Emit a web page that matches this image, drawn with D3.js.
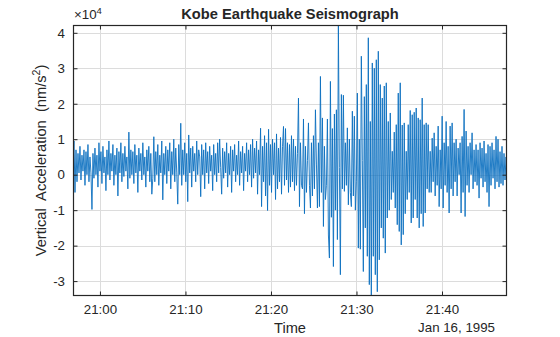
<!DOCTYPE html>
<html>
<head>
<meta charset="utf-8">
<script src="https://cdn.jsdelivr.net/npm/d3@7"></script>
<style>
  html, body { margin: 0; padding: 0; background: #fff; }
  text { font-family: "Liberation Sans", Arial, Helvetica, sans-serif; fill: #262626; }
</style>
</head>
<body>
<svg id="chart" width="560" height="337"></svg>
<script>
// ---- DATA (acceleration in units of 1e4 nm/s^2, one reading every 7 s from 20:56:51) ----
const startTime = "1995-01-16T20:56:51";
const sampleStepSeconds = 7;
const accel = [
  0.3, 0.95, -0.5, 0.7, -0.2, 0.6, 0.05, 0.8, -0.15, 0.55,
  0.1, 0.7, -0.3, 0.65, 0.0, 0.85, -0.2, 0.5, 0.05, -0.98,
  0.6, -0.1, 0.75, 0.0, 0.55, -0.35, 0.9, 0.1, 0.65, -0.25,
  0.8, 0.05, 0.5, -0.45, 0.7, 0.0, 0.95, -0.15, 0.6, 0.1,
  0.85, -0.3, 0.55, 0.0, 0.75, -0.6, 0.65, 0.05, 0.9, -0.2,
  0.6, -0.05, 0.8, 0.1, 0.5, -0.4, 1.2, -0.1, 0.7, 0.0,
  0.65, -0.25, 0.85, 0.05, 0.55, -0.5, 0.75, 0.1, 0.6, -0.15,
  0.9, 0.0, 0.5, -0.35, 0.7, 0.1, 0.8, -0.2, 0.6, -0.55,
  -0.1, 1.07, -0.2, 0.65, 0.0, 0.85, -0.3, 0.55, 0.05, 0.95,
  -0.71, 0.6, 0.0, 0.8, -0.25, 0.7, 0.1, 0.9, -0.4, 0.65,
  0.0, 1.0, -0.2, 0.75, 0.05, -0.83, 0.85, 0.0, 1.45, -0.3,
  0.7, 0.0, 0.9, -0.2, 0.6, -0.76, 1.12, 0.05, 0.75, -0.35,
  0.8, 0.1, 0.6, -0.2, 0.95, 0.0, 0.7, 0.5, -0.62, 0.85,
  0.0, 0.7, -0.4, 0.9, 0.05, 0.65, -0.25, 0.8, 0.1, 0.55,
  -0.45, 0.85, 0.0, 0.6, -0.2, 0.9, 0.05, 1.0, 0.2, -0.55,
  0.75, -0.1, 0.65, 0.05, 0.9, -0.35, 0.6, 0.0, 0.8, -0.5,
  0.7, 0.1, 0.85, -0.2, 0.55, 0.0, 0.95, -0.3, 0.65, 0.05,
  0.8, -0.45, 0.6, 0.1, 0.9, -0.2, 0.7, 0.0, 0.85, -0.35,
  1.0, -0.1, 0.75, 0.05, 0.95, -0.55, 0.7, 0.0, 1.31, -0.9,
  0.8, -0.2, 1.1, -0.6, 0.9, -1.01, 1.28, -0.3, 0.85, -0.5,
  1.0, 0.0, 0.9, -0.7, 1.15, -0.4, 0.75, -0.2, 1.05, -0.55,
  0.8, 1.36, -0.3, 1.3, -0.15, 0.9, -0.5, 0.85, -0.35, 1.1,
  -0.2, 1.0, -0.45, 0.8, -0.3, 0.6, 2.16, -0.9, 0.9, -0.3,
  -0.4, 1.57, -1.1, 0.8, -0.5, 0.4, 1.46, -0.3, -0.94, 0.9,
  -0.6, 1.1, -0.4, 1.83, 0.3, -0.94, 0.9, -0.9, 2.77, -0.5,
  1.6, -1.46, 0.8, -0.7, -0.3, 1.57, -1.7, -2.35, 2.63, -1.2,
  1.3, -2.59, 1.71, -1.0, 1.83, -1.83, 4.22, 0.2, -2.82, 2.26,
  -0.4, 2.24, -0.47, 0.9, -0.3, 1.32, -0.85, 1.0, -0.5, -0.9,
  1.79, -0.6, 1.65, -1.0, -0.2, 2.3, -2.07, 1.0, -2.1, 3.34,
  0.4, -2.73, 2.2, -1.5, 2.54, -2.3, 3.86, -3.1, 1.5, -3.42,
  3.15, -2.3, 3.0, -2.82, 3.24, -3.3, 3.48, -2.4, 2.54, -1.5,
  2.16, -1.79, 2.5, -2.21, 2.59, -1.22, 1.5, -1.0, 1.74, -0.7,
  0.66, -0.5, 1.2, -0.94, 1.41, -1.41, 2.3, -1.6, 2.59, -1.98,
  1.4, -1.69, 1.46, -1.1, 0.66, -0.7, 1.41, -0.5, 1.81, -1.36,
  1.69, -1.22, 1.76, -0.7, 1.88, -1.22, 1.6, -1.5, 1.55, -1.1,
  2.16, -1.46, 1.41, -1.08, 1.46, -0.4, 1.41, -0.5, 0.66, -0.5,
  1.03, -0.2, 1.18, -0.6, 0.8, -0.3, 1.37, -0.9, 0.7, -0.4,
  1.65, -0.94, 0.9, -0.3, 1.5, -0.5, 0.8, -1.08, 1.37, -0.4,
  1.46, -0.6, 0.9, -0.2, 1.0, -0.6, 0.75, 0.0, 0.9, -1.08,
  1.08, -0.5, 1.84, -1.18, 1.23, -0.3, 0.8, -0.5, 0.9, 0.0,
  1.18, -0.4, 0.7, -0.2, 0.85, -0.3, 0.7, -0.66, 0.9, -0.1,
  0.75, -0.35, 0.95, -0.2, 0.6, -0.5, 0.85, -0.9, 0.8, -0.3,
  0.9, -0.1, 0.7, -0.4, 1.08, -0.2, 1.0, -0.35, 0.65, -0.25,
  0.8, -0.3, 0.6, -0.15, 0.5, 0.1
];
const yTickValues = [-3, -2, -1, 0, 1, 2, 3, 4];
const xTickTimes = ["1995-01-16T21:00:00", "1995-01-16T21:10:00", "1995-01-16T21:20:00", "1995-01-16T21:30:00", "1995-01-16T21:40:00"];
const titleText = "Kobe Earthquake Seismograph";
const xLabelText = "Time";
const dateLabelText = "Jan 16, 1995";
const yLabelMain = "Vertical  Acceleration  (nm/s";
const yLabelSup = "2";
const yLabelEnd = ")";
const exponentBase = "×10";
const exponentPower = "4";

// ---- BUILD ----
const t0 = new Date(startTime);
const data = accel.map((v, i) => ({ t: new Date(t0.getTime() + i * sampleStepSeconds * 1000), v }));

const svg = d3.select("#chart");
const L = 73, R = 507, T = 25, B = 296;
const ink = "#262626";

const x = d3.scaleTime().domain(d3.extent(data, d => d.t)).range([L, R]);
const y = d3.scaleLinear().domain(d3.extent(data, d => d.v)).range([B, T]);
const xTicks = xTickTimes.map(s => new Date(s));
const fmt = d3.timeFormat("%H:%M");

// grid
const grid = svg.append("g");
grid.selectAll(".gx").data(xTicks).join("line")
  .attr("x1", d => Math.round(x(d)) + 0.5).attr("x2", d => Math.round(x(d)) + 0.5)
  .attr("y1", T).attr("y2", B).attr("stroke", "#dcdcdc").attr("stroke-width", 1);
grid.selectAll(".gy").data(yTickValues).join("line")
  .attr("y1", d => Math.round(y(d)) + 0.5).attr("y2", d => Math.round(y(d)) + 0.5)
  .attr("x1", L).attr("x2", R).attr("stroke", "#dcdcdc").attr("stroke-width", 1);

// line
svg.append("clipPath").attr("id", "clip").append("rect")
  .attr("x", L).attr("y", T).attr("width", R - L).attr("height", B - T);
svg.append("path").datum(data)
  .attr("clip-path", "url(#clip)")
  .attr("fill", "none").attr("stroke", "#0b6fc0").attr("stroke-width", 0.9)
  .attr("stroke-linejoin", "miter")
  .attr("d", d3.line().x(d => x(d.t)).y(d => y(d.v)));

// axes (ticks inward on all sides)
const tl = 4.5;
const xb = svg.append("g").attr("transform", `translate(0,${B})`)
  .call(d3.axisBottom(x).tickValues(xTicks).tickFormat(fmt).tickSizeInner(-tl).tickSizeOuter(0).tickPadding(9));
const xt = svg.append("g").attr("transform", `translate(0,${T})`)
  .call(d3.axisTop(x).tickValues(xTicks).tickFormat("").tickSizeInner(-tl).tickSizeOuter(0));
const yl = svg.append("g").attr("transform", `translate(${L},0)`)
  .call(d3.axisLeft(y).tickValues(yTickValues).tickFormat(d3.format("d")).tickSizeInner(-tl).tickSizeOuter(0).tickPadding(8));
const yr = svg.append("g").attr("transform", `translate(${R},0)`)
  .call(d3.axisRight(y).tickValues(yTickValues).tickFormat("").tickSizeInner(-tl).tickSizeOuter(0));
[xb, xt, yl, yr].forEach(g => {
  g.select(".domain").remove();
  g.selectAll("line").attr("stroke", ink).attr("stroke-width", 1);
  g.selectAll("text").attr("font-size", "13.3px").attr("fill", ink)
    .attr("font-family", "Liberation Sans, Arial, sans-serif");
});
yl.selectAll("text").text(d => d < 0 ? "-" + Math.abs(d) : d);

// box
svg.append("rect").attr("x", L + 0.5).attr("y", T + 0.5).attr("width", R - L - 1).attr("height", B - T - 1)
  .attr("fill", "none").attr("stroke", ink).attr("stroke-width", 1.2);

// texts
svg.append("text").attr("x", (L + R) / 2).attr("y", 19).attr("text-anchor", "middle")
  .attr("font-size", "14.67px").attr("font-weight", "bold").text(titleText);
svg.append("text").attr("x", (L + R) / 2).attr("y", 333).attr("text-anchor", "middle")
  .attr("font-size", "14.67px").text(xLabelText);
svg.append("text").attr("x", 495).attr("y", 332).attr("text-anchor", "end")
  .attr("font-size", "13.3px").text(dateLabelText);

const ex = svg.append("text").attr("x", 74).attr("y", 19).attr("font-size", "13.3px");
ex.append("tspan").text(exponentBase);
ex.append("tspan").attr("dy", -5).attr("font-size", "9.5px").text(exponentPower);

const ylab = svg.append("text")
  .attr("transform", `translate(46,${(T + B) / 2}) rotate(-90)`)
  .attr("text-anchor", "middle").attr("font-size", "14.67px")
  .style("white-space", "pre");
ylab.append("tspan").text(yLabelMain);
ylab.append("tspan").attr("dy", -6).attr("font-size", "10.5px").text(yLabelSup);
ylab.append("tspan").attr("dy", 6).text(yLabelEnd);
</script>
</body>
</html>
